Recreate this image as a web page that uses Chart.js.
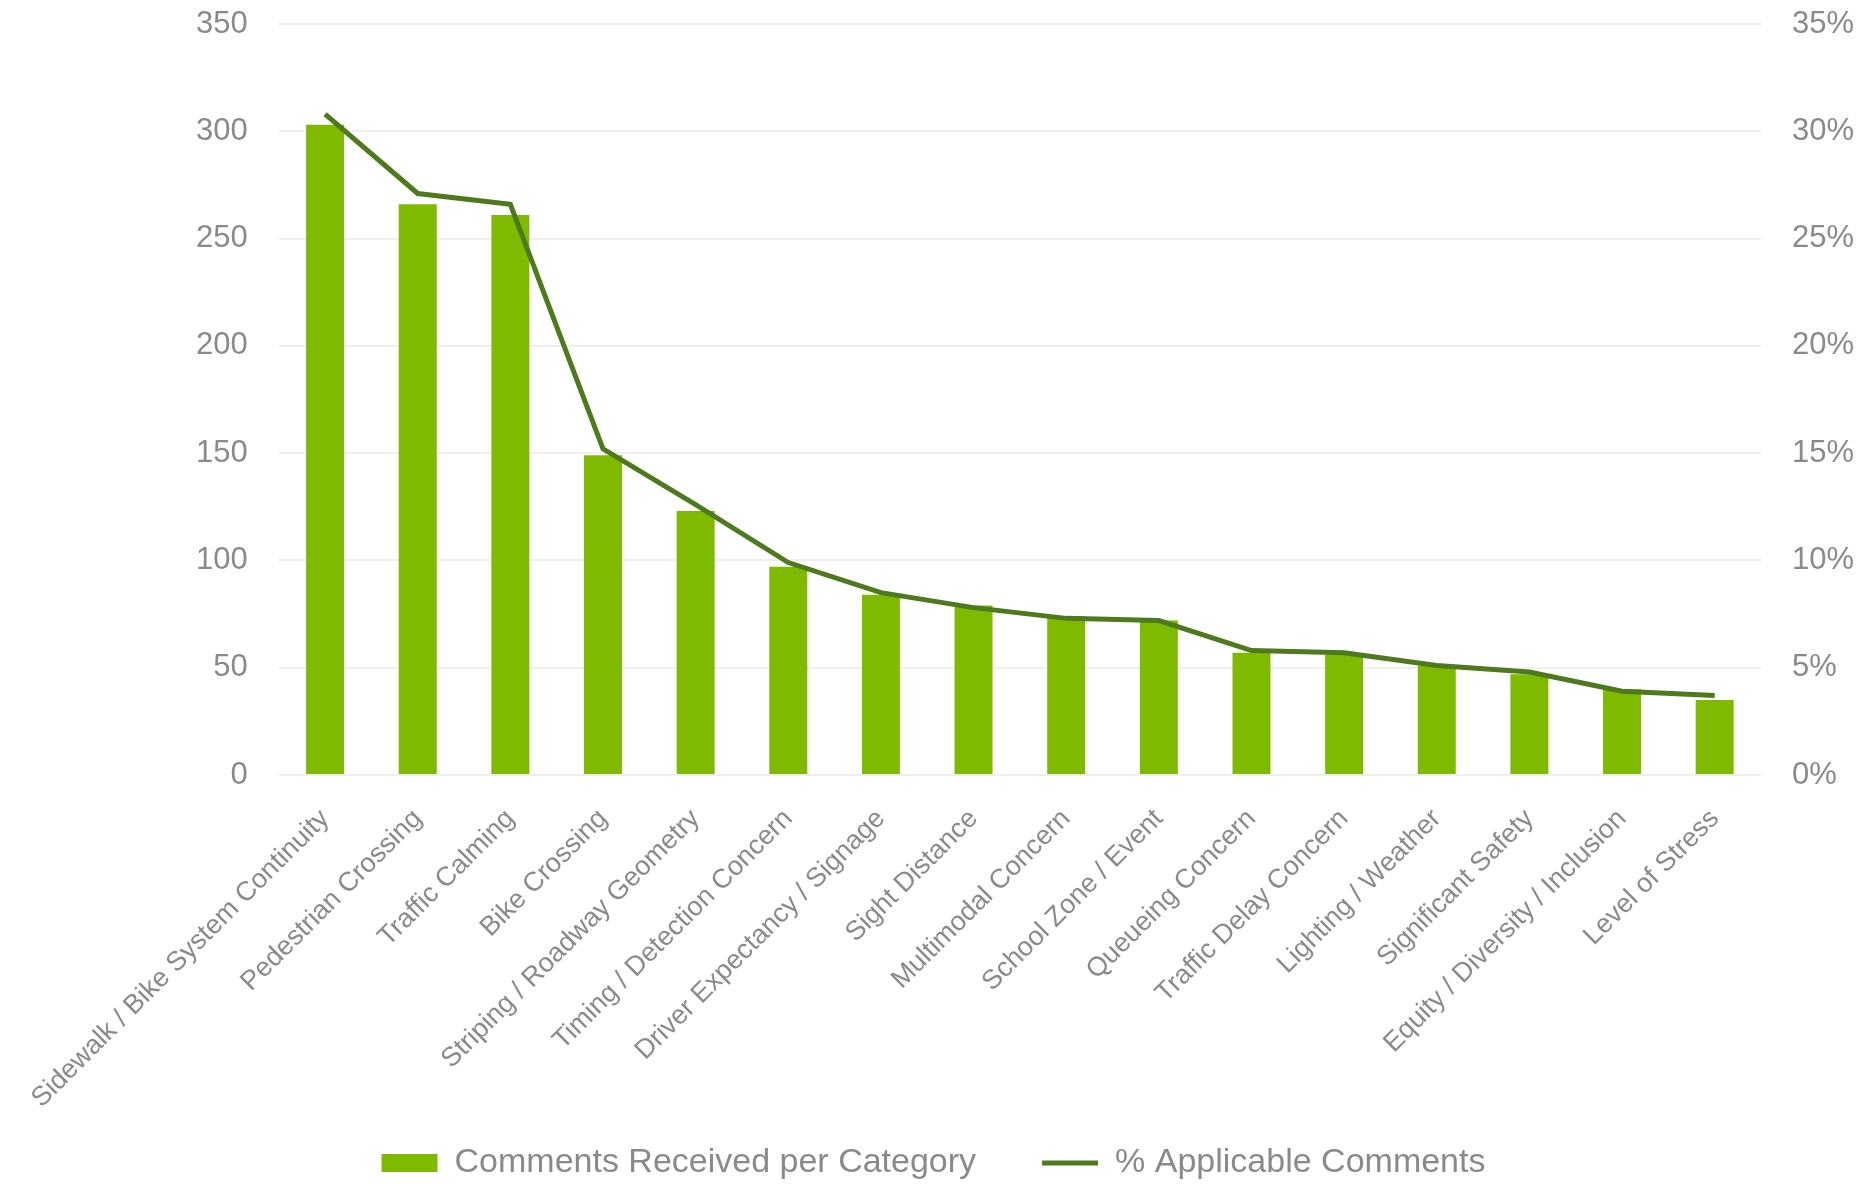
<!DOCTYPE html>
<html>
<head>
<meta charset="utf-8">
<title>Comments per Category</title>
<script src="https://cdn.jsdelivr.net/npm/chart.js@4.4.1/dist/chart.umd.min.js"></script>
<style>
  html, body { margin: 0; padding: 0; background: #fff; }
  #chart { display: block; }
</style>
</head>
<body>
<canvas id="chart" width="1867" height="1184"></canvas>
<script>
const categories = [
  'Sidewalk / Bike System Continuity', 'Pedestrian Crossing', 'Traffic Calming',
  'Bike Crossing', 'Striping / Roadway Geometry', 'Timing / Detection Concern',
  'Driver Expectancy / Signage', 'Sight Distance', 'Multimodal Concern',
  'School Zone / Event', 'Queueing Concern', 'Traffic Delay Concern',
  'Lighting / Weather', 'Significant Safety', 'Equity / Diversity / Inclusion',
  'Level of Stress'
];
const commentCounts = [303, 266, 261, 149, 123, 97, 84, 79, 74, 72, 57, 56, 51, 47, 40, 35];
const applicablePct = [30.8, 27.1, 26.6, 15.2, 12.6, 9.9, 8.5, 7.8, 7.3, 7.2, 5.8, 5.7, 5.1, 4.8, 3.9, 3.7];

const BAR_GREEN = '#7fba00';
const LINE_GREEN = '#4d7a1c';
const TEXT_GRAY = '#8a8a8a';
const GRID_GRAY = '#efefef';
const FONT = '"Liberation Sans", Arial, sans-serif';

// y axes: keep the label gap but don't let it push the plot area down
function fixYAxis(width) {
  return scale => {
    scale.width = width;
    scale.paddingTop = 0;
    scale.paddingBottom = 0;
  };
}

new Chart(document.getElementById('chart'), {
  data: {
    labels: categories,
    datasets: [
      {
        type: 'bar',
        label: 'Comments Received per Category',
        data: commentCounts,
        backgroundColor: BAR_GREEN,
        borderWidth: 0,
        categoryPercentage: 1,
        barPercentage: 0.41,
        yAxisID: 'y',
        order: 1,
        pointStyle: 'rect'
      },
      {
        type: 'line',
        label: '% Applicable Comments',
        data: applicablePct,
        borderColor: LINE_GREEN,
        backgroundColor: LINE_GREEN,
        borderWidth: 5,
        pointRadius: 0,
        tension: 0,
        yAxisID: 'y1',
        order: 0,
        pointStyle: 'line'
      }
    ]
  },
  options: {
    responsive: false,
    animation: false,
    devicePixelRatio: 1,
    layout: { padding: { top: 24, left: 0, right: 0, bottom: -6 } },
    scales: {
      x: {
        grid: { display: false, drawTicks: false },
        border: { display: false },
        ticks: {
          color: TEXT_GRAY,
          font: { family: FONT, size: 27 },
          minRotation: 45,
          maxRotation: 45,
          autoSkip: false,
          padding: 28
        },
        afterFit: scale => {
          scale.height = 305;
          // long rotated labels run into the legend's empty top band
          scale._computeLabelArea = () => undefined;
        }
      },
      y: {
        position: 'left',
        min: 0,
        max: 350,
        grid: { color: GRID_GRAY, lineWidth: 2, drawTicks: false },
        border: { display: false },
        ticks: {
          stepSize: 50,
          color: TEXT_GRAY,
          font: { family: FONT, size: 31 },
          padding: 31
        },
        afterFit: fixYAxis(271)
      },
      y1: {
        position: 'right',
        min: 0,
        max: 35,
        grid: { display: false, drawTicks: false },
        border: { display: false },
        ticks: {
          stepSize: 5,
          color: TEXT_GRAY,
          font: { family: FONT, size: 31 },
          padding: 31,
          callback: v => v + '%'
        },
        afterFit: fixYAxis(106)
      }
    },
    plugins: {
      legend: {
        position: 'bottom',
        labels: {
          color: TEXT_GRAY,
          font: { family: FONT, size: 34 },
          usePointStyle: true,
          pointStyleWidth: 56,
          boxHeight: 18,
          padding: 66,
          sort: (a, b) => a.datasetIndex - b.datasetIndex
        }
      },
      tooltip: { enabled: false }
    }
  }
});
</script>
</body>
</html>
